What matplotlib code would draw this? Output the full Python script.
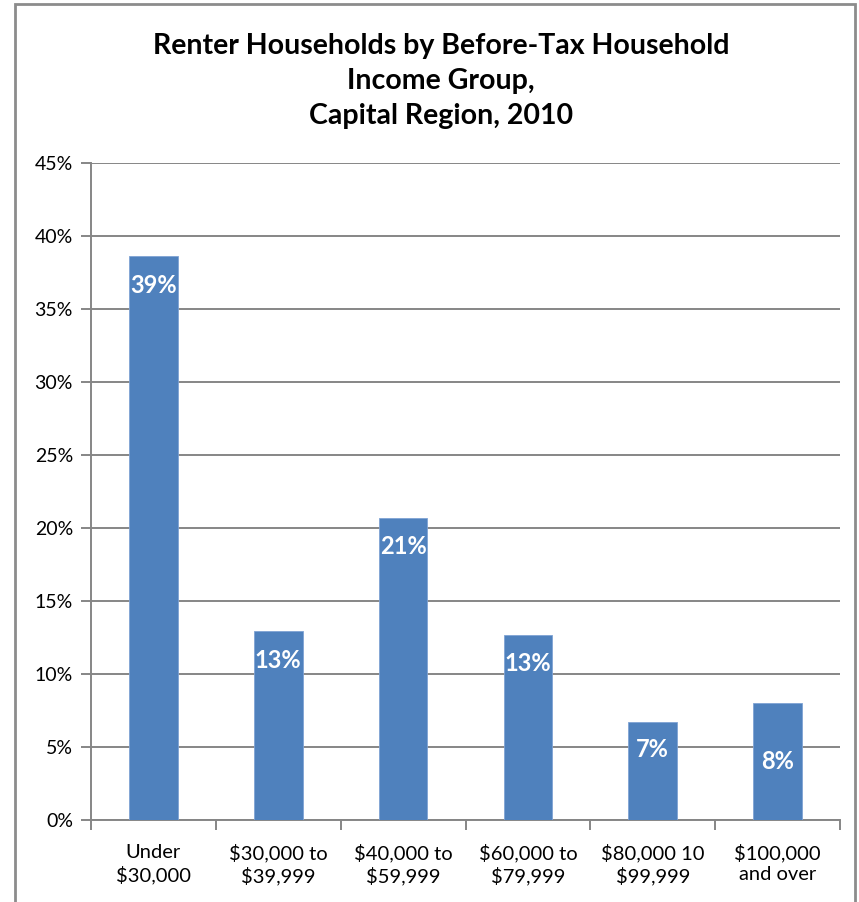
import matplotlib.pyplot as plt
from matplotlib.patches import Rectangle
import numpy as np

plt.rcParams['font.family'] = ['Lato', 'DejaVu Sans']

categories = ["Under\n$30,000", "$30,000 to\n$39,999", "$40,000 to\n$59,999",
              "$60,000 to\n$79,999", "$80,000 10\n$99,999", "$100,000\nand over"]
shares = [38.6, 12.95, 20.7, 12.7, 6.7, 8.0]
yticks = [0, 5, 10, 15, 20, 25, 30, 35, 40, 45]

bar_color = "#4F81BD"
grid_color = "#868686"

fig = plt.figure(figsize=(8.59, 9.02), dpi=100)
ax = fig.add_axes([91 / 859, 1 - 820 / 902, (840 - 91) / 859, (820 - 163) / 902])

x = np.arange(len(categories))
bars = ax.bar(x, shares, width=0.39, color=bar_color, edgecolor="#7FA3D4",
              linewidth=0.6, zorder=3)

# value labels sit just inside the top of each bar
offsets = [-21, -21, -21, -21, -20, -42]
for b, v, off in zip(bars, shares, offsets):
    ax.annotate(f"{v:.0f}%", (b.get_x() + b.get_width() / 2, v),
                xytext=(0, off), textcoords="offset points",
                ha="center", va="center", color="white",
                fontsize=17, fontweight="bold", zorder=4)

ax.set_xlim(-0.5, len(categories) - 0.5)
ax.set_ylim(0, 45)
ax.set_yticks(yticks)
ax.set_yticklabels([f"{t}%" for t in yticks], fontsize=14)
ax.yaxis.grid(True, color=grid_color, linewidth=1.4, zorder=0)

ax.set_xticks(x)
ax.set_xticklabels(categories, fontsize=14.5, linespacing=1.3)
ax.set_xticks(np.arange(len(categories) + 1) - 0.5, minor=True)
ax.tick_params(axis="x", which="major", length=0, pad=17)
ax.tick_params(axis="x", which="minor", length=7, width=1.4, color=grid_color)
ax.tick_params(axis="y", length=7, width=1.4, color=grid_color, pad=6)

for side in ["top", "right"]:
    ax.spines[side].set_visible(False)
for side in ["left", "bottom"]:
    ax.spines[side].set_color(grid_color)
    ax.spines[side].set_linewidth(1.4)

fig.text(441 / 859, 1 - 81 / 902,
         "Renter Households by Before-Tax Household\nIncome Group,\nCapital Region, 2010",
         ha="center", va="center", fontsize=20.5, fontweight="bold", linespacing=1.42)

# outer chart frame
fig.patches.append(Rectangle((15 / 859, -0.05), (855 - 15) / 859, 1.05 - 4 / 902,
                             transform=fig.transFigure, fill=False,
                             edgecolor="#8C8C8C", linewidth=2))

fig.savefig("out.png", dpi=100)
